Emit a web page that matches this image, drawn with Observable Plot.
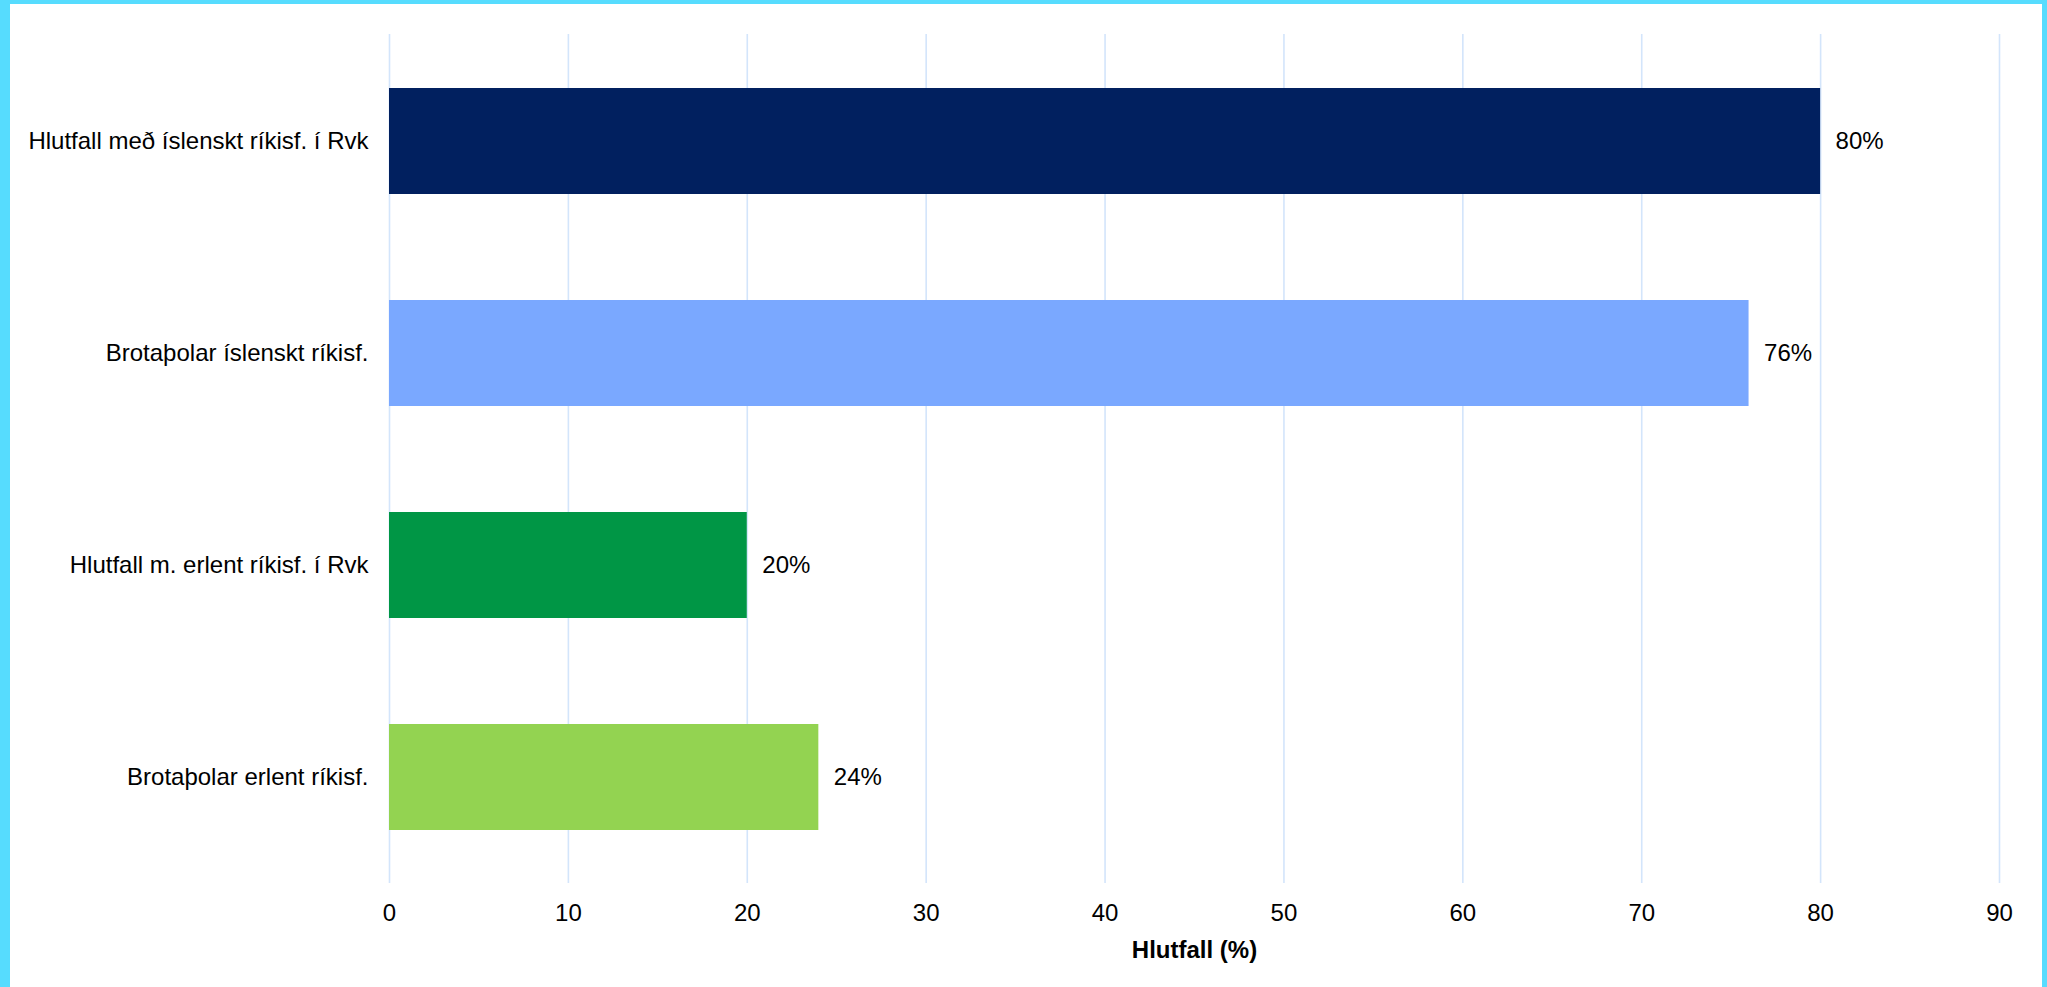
<!DOCTYPE html>
<html>
<head>
<meta charset="utf-8">
<script src="https://cdn.jsdelivr.net/npm/d3@7"></script>
<script src="https://cdn.jsdelivr.net/npm/@observablehq/plot@0.6"></script>
<style>
  html, body { margin: 0; padding: 0; width: 2047px; height: 987px; overflow: hidden; background: #56dcfe; }
  #frame { position: absolute; left: 10px; top: 4px; width: 2032px; height: 983px; background: #fff; }
  #chart svg { display: block; }
</style>
</head>
<body>
<div id="frame"><div id="chart"></div></div>
<script>
const categories = [
  "Hlutfall með íslenskt ríkisf. í Rvk",
  "Brotaþolar íslenskt ríkisf.",
  "Hlutfall m. erlent ríkisf. í Rvk",
  "Brotaþolar erlent ríkisf."
];
const values = [80, 76, 20, 24];
const colors = ["#01205f", "#7aa8ff", "#009645", "#93d351"];
const xTicks = [0, 10, 20, 30, 40, 50, 60, 70, 80, 90];
const xTitle = "Hlutfall (%)";

const data = categories.map((c, i) => ({category: c, value: values[i], color: colors[i]}));

const chart = Plot.plot({
  width: 2032,
  height: 983,
  marginLeft: 379,
  marginRight: 43,
  marginTop: 30,
  marginBottom: 104,
  style: {fontFamily: "'Liberation Sans', Arial, sans-serif", fontSize: "24px", color: "#000", background: "#fff", overflow: "visible"},
  x: {domain: [0, 90], ticks: xTicks, tickSize: 0, tickPadding: 20, label: null},
  y: {domain: categories, paddingInner: 0.5, paddingOuter: 0.25, tickSize: 0, tickPadding: 21, label: null},
  marks: [
    Plot.ruleX(xTicks, {stroke: "#d3e5fb", strokeWidth: 1.6}),
    Plot.barX(data, {y: "category", x: "value", fill: "color"}),
    Plot.text(data, {y: "category", x: "value", text: d => d.value + "%", dx: 15, textAnchor: "start", fill: "#000"}),
    Plot.text([xTitle], {frameAnchor: "bottom", lineAnchor: "bottom", dy: 74, fontWeight: "bold", fill: "#000"})
  ]
});
document.getElementById("chart").appendChild(chart);
</script>
</body>
</html>
